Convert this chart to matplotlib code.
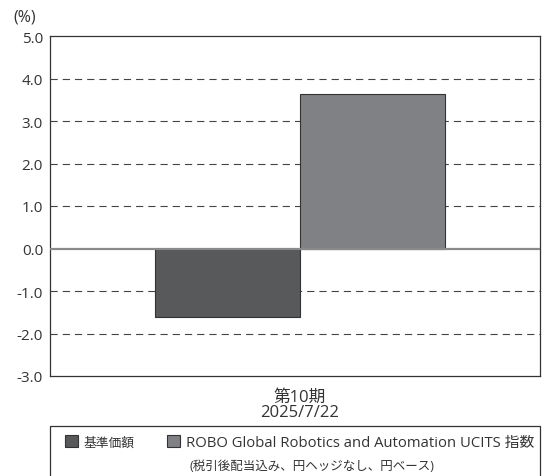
import matplotlib
matplotlib.use("Agg")
import matplotlib.pyplot as plt
from matplotlib.patches import Rectangle

plt.rcParams['font.family'] = ['Open Sans', 'Noto Sans CJK JP', 'DejaVu Sans']

categories = ["第10期\n2025/7/22"]
series_names = ["基準価額",
                "ROBO Global Robotics and Automation UCITS 指数\n(税引後配当込み、円ヘッジなし、円ベース)"]
fund_values = [-1.6]
index_values = [3.63]
yticks = [5.0, 4.0, 3.0, 2.0, 1.0, 0.0, -1.0, -2.0, -3.0]
colors = ["#58595b", "#808184"]

fig = plt.figure(figsize=(5.52, 4.77), dpi=100)
ax = fig.add_axes([50/552, 1-377/477, 490/552, 340/477])

w = 1.0
x = list(range(len(categories)))
first_lines = [n.split("\n")[0] for n in series_names]
ax.bar([xi - w/2 for xi in x], fund_values, width=w, color=colors[0],
       edgecolor="#333333", linewidth=0.8, label=first_lines[0], zorder=3)
ax.bar([xi + w/2 for xi in x], index_values, width=w, color=colors[1],
       edgecolor="#333333", linewidth=0.8, label=first_lines[1], zorder=3)

ax.set_ylim(-3.0, 5.0)
ax.set_xlim(-250/145*w, 240/145*w)
ax.set_yticks(yticks)
ax.set_yticklabels([f"{v:.1f}" for v in yticks], fontsize=11, color="#333333")
ax.set_xticks(x)
ax.set_xticklabels(categories, fontsize=12, color="#333333", linespacing=0.95)
ax.tick_params(axis='both', length=0, pad=5)
ax.tick_params(axis='x', pad=9)

for v in yticks:
    if v in (5.0, -3.0):
        continue
    if v == 0.0:
        ax.axhline(v, color="#8a8a8a", lw=1.6, zorder=4)
    else:
        ax.axhline(v, color="#444444", lw=0.8, dashes=(6.5, 4.5), zorder=1)

for s in ax.spines.values():
    s.set_color("#333333")
    s.set_linewidth(0.9)

fig.text(13/552, 1-18/477, "(%)", fontsize=11.5, color="#333333", va="center", ha="left")

# legend frame
fig.patches.append(Rectangle((50/552, -0.05), 490/552, 0.05 + 1-427/477,
                             transform=fig.transFigure, fill=False,
                             edgecolor="#333333", linewidth=0.9))
h, l = ax.get_legend_handles_labels()
leg = fig.legend(h, l, loc="upper left", bbox_to_anchor=(65/552, 1-436/477),
                 ncol=2, frameon=False, fontsize=10.7, handlelength=0.85,
                 handleheight=0.85, handletextpad=0.4, columnspacing=2.2,
                 borderaxespad=0, borderpad=0, labelspacing=0)
for t in leg.get_texts():
    t.set_color("#333333")
leg.get_texts()[0].set_fontsize(9.2)
fig.text(189/552, 1-467/477, series_names[1].split("\n")[1], fontsize=9.0,
         color="#333333", va="center", ha="left")

fig.savefig("out.png", dpi=100)
